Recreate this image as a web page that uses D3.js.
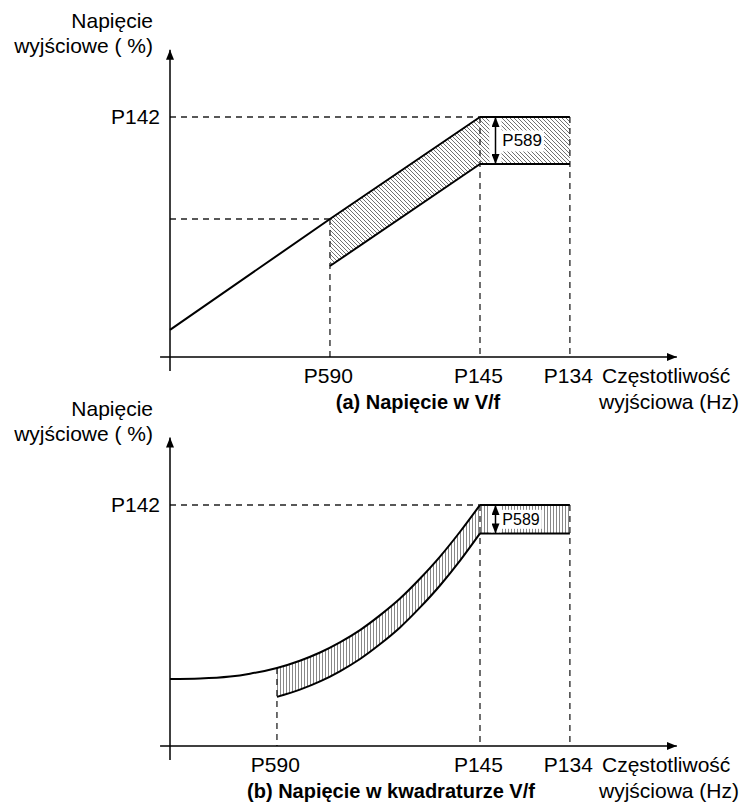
<!DOCTYPE html>
<html>
<head>
<meta charset="utf-8">
<script src="https://cdn.jsdelivr.net/npm/d3@7"></script>
<style>
  body { margin: 0; background: #fff; }
  text { font-family: "Liberation Sans", Arial, sans-serif; fill: #000; }
</style>
</head>
<body>
<svg id="chart" width="742" height="802"></svg>
<script>
// values in % : x -> P145 = 100, y -> P142 = 100
var xTickLabels = ["P590", "P145", "P134"];
var yTickLabels = ["P142"];
var yTickValues = [100];
var xTicksA = [51.6, 100, 129];
var xTicksB = [34.5, 100, 129];

var upperA = [[0, 11.3], [51.6, 57.5], [100, 100], [129, 100]];
var lowerA = [[51.6, 37.9], [100, 80.4], [129, 80.4]];

var upperB = [[0, 27.8], [9.7, 28.0], [19.4, 28.8], [25.8, 30.0], [34.5, 32.4], [41.9, 35.4],
  [48.4, 38.8], [54.8, 43.0], [61.3, 48.1], [67.7, 54.2], [74.2, 61.2], [80.6, 69.4],
  [87.1, 78.6], [93.5, 88.8], [100, 100], [129, 100]];
var lowerB = [[34.5, 20.4], [41.9, 23.4], [48.4, 26.8], [54.8, 31.0], [61.3, 36.1], [67.7, 42.2],
  [74.2, 49.2], [80.6, 57.4], [87.1, 66.6], [93.5, 76.8], [100, 88.2], [129, 88.2]];

var titles = ["(a) Napięcie w V/f", "(b) Napięcie w kwadraturze V/f"];
var yTitle = ["Napięcie", "wyjściowe ( %)"];
var xTitle = ["Częstotliwość", "wyjściowa (Hz)"];
var bandLabel = "P589";

var font = "'Liberation Sans', Arial, sans-serif";
var svg = d3.select("#chart");
var defs = svg.append("defs");

defs.append("pattern").attr("id", "hatchDiag")
  .attr("patternUnits", "userSpaceOnUse").attr("width", 4).attr("height", 4)
  .append("path").attr("d", "M-1,-1L5,5M-1,3L1,5M3,-1L5,1")
  .attr("stroke", "#333").attr("stroke-width", 0.7);

defs.append("pattern").attr("id", "hatchVert")
  .attr("patternUnits", "userSpaceOnUse").attr("width", 3).attr("height", 10)
  .append("path").attr("d", "M1.5,0V10")
  .attr("stroke", "#555").attr("stroke-width", 0.7);

defs.append("marker").attr("id", "arrow")
  .attr("viewBox", "0 0 10 8").attr("refX", 10).attr("refY", 4)
  .attr("markerWidth", 10).attr("markerHeight", 8)
  .attr("markerUnits", "userSpaceOnUse").attr("orient", "auto-start-reverse")
  .append("path").attr("d", "M0,0L10,4L0,8Z").attr("fill", "#000");

function valueAt(arr, xv) {
  var p = arr.find(function (d) { return d[0] === xv; });
  return p ? p[1] : 0;
}

function panel(o) {
  var g = svg.append("g");
  var x = d3.scaleLinear().domain([0, 100]).range([170, 480]);
  var y = d3.scaleLinear().domain([0, 100]).range(o.yRange);

  // hatched band
  var band = o.lower.map(function (d) { return { x: d[0], lo: d[1], hi: valueAt(o.upper, d[0]) }; });
  var area = d3.area()
    .x(function (d) { return x(d.x); })
    .y0(function (d) { return y(d.lo); })
    .y1(function (d) { return y(d.hi); });
  var bend = band.filter(function (d) { return d.x <= 100; });
  var flat = band.filter(function (d) { return d.x >= 100; });
  g.append("path").attr("d", area.curve(o.curve)(bend)).attr("fill", o.hatch);
  g.append("path").attr("d", area.curve(d3.curveLinear)(flat)).attr("fill", o.hatch);

  // dashed guides
  var dash = g.append("g").attr("stroke", "#222").attr("stroke-width", 1.3)
    .attr("stroke-dasharray", "6,5").attr("fill", "none");
  o.xTicks.forEach(function (t) {
    dash.append("line").attr("x1", x(t)).attr("x2", x(t))
      .attr("y1", y(valueAt(o.upper, t))).attr("y2", y(0));
  });
  dash.append("line").attr("x1", x(0)).attr("x2", x(100))
    .attr("y1", y(yTickValues[0])).attr("y2", y(yTickValues[0]));
  if (o.midGuide) {
    var mv = valueAt(o.upper, o.xTicks[0]);
    dash.append("line").attr("x1", x(0)).attr("x2", x(o.xTicks[0]))
      .attr("y1", y(mv)).attr("y2", y(mv));
  }

  // solid curves
  var line = d3.line().x(function (d) { return x(d[0]); }).y(function (d) { return y(d[1]); });
  [o.upper, o.lower].forEach(function (arr) {
    var c = arr.filter(function (d) { return d[0] <= 100; });
    var f = arr.filter(function (d) { return d[0] >= 100; });
    g.append("path").attr("d", line.curve(o.curve)(c))
      .attr("fill", "none").attr("stroke", "#000").attr("stroke-width", 2);
    g.append("path").attr("d", line.curve(d3.curveLinear)(f))
      .attr("fill", "none").attr("stroke", "#000").attr("stroke-width", 2);
  });

  // axes
  g.append("line").attr("x1", x(0)).attr("x2", x(0)).attr("y1", y(-5.8)).attr("y2", y(128))
    .attr("stroke", "#000").attr("stroke-width", 1.5).attr("marker-end", "url(#arrow)");
  g.append("line").attr("x1", x(-3.2)).attr("x2", x(163.5)).attr("y1", y(0)).attr("y2", y(0))
    .attr("stroke", "#000").attr("stroke-width", 1.5).attr("marker-end", "url(#arrow)");

  g.append("g").attr("transform", "translate(0," + y(0) + ")")
    .call(d3.axisBottom(x).tickValues(o.xTicks)
      .tickFormat(function (d, i) { return xTickLabels[i]; })
      .tickSize(0).tickPadding(11))
    .call(function (a) { a.select(".domain").remove(); })
    .call(function (a) { a.selectAll("text").attr("dx", "-0.1em"); })
    .attr("font-size", 21).attr("font-family", font);

  g.append("g").attr("transform", "translate(" + x(0) + ",0)")
    .call(d3.axisLeft(y).tickValues(yTickValues)
      .tickFormat(function (d, i) { return yTickLabels[i]; })
      .tickSize(0).tickPadding(10))
    .call(function (a) { a.select(".domain").remove(); })
    .attr("font-size", 21).attr("font-family", font);

  // axis titles
  var tip = y(128);
  g.append("text").attr("x", x(0) - 17).attr("y", tip - 22).attr("text-anchor", "end")
    .attr("font-size", 21).text(yTitle[0]);
  g.append("text").attr("x", x(0) - 17).attr("y", tip + 3).attr("text-anchor", "end")
    .attr("font-size", 21).text(yTitle[1]);
  g.append("text").attr("x", 602).attr("y", y(0) + 26)
    .attr("font-size", 21).text(xTitle[0]);
  g.append("text").attr("x", 739).attr("y", y(0) + 52).attr("text-anchor", "end")
    .attr("font-size", 21).text(xTitle[1]);

  g.append("text").attr("x", o.titleX).attr("y", y(0) + 52).attr("text-anchor", "middle")
    .attr("font-size", 20).attr("font-weight", "bold").text(o.title);

  // P589 span marker
  var hi = valueAt(o.upper, 129), lo = valueAt(o.lower, 129);
  var mid = (y(hi) + y(lo)) / 2;
  var bg = g.append("rect").attr("fill", "#fff");
  var ax = x(105);
  g.append("rect").attr("x", ax - 6).attr("y", y(hi) + 1).attr("width", 12)
    .attr("height", y(lo) - y(hi) - 2).attr("fill", "#fff");
  var lbl = g.append("text").attr("x", x(107.2)).attr("y", mid).attr("dy", "0.35em")
    .attr("font-size", o.bandFont).text(bandLabel);
  var bb = lbl.node().getBBox();
  bg.attr("x", ax - 6).attr("y", Math.max(bb.y - 1, y(hi) + 1))
    .attr("width", bb.x + bb.width + 2 - (ax - 6))
    .attr("height", Math.min(bb.height + 2, y(lo) - y(hi) - 2));
  g.append("line").attr("x1", ax).attr("x2", ax).attr("y1", y(lo)).attr("y2", y(hi))
    .attr("stroke", "#000").attr("stroke-width", 1.5)
    .attr("marker-start", "url(#arrow)").attr("marker-end", "url(#arrow)");
}

panel({ yRange: [357, 117], upper: upperA, lower: lowerA, xTicks: xTicksA,
  curve: d3.curveLinear, hatch: "url(#hatchDiag)", midGuide: true,
  title: titles[0], titleX: 418, bandFont: 17 });

panel({ yRange: [746, 505], upper: upperB, lower: lowerB, xTicks: xTicksB,
  curve: d3.curveMonotoneX, hatch: "url(#hatchVert)", midGuide: false,
  title: titles[1], titleX: 391, bandFont: 16 });
</script>
</body>
</html>
